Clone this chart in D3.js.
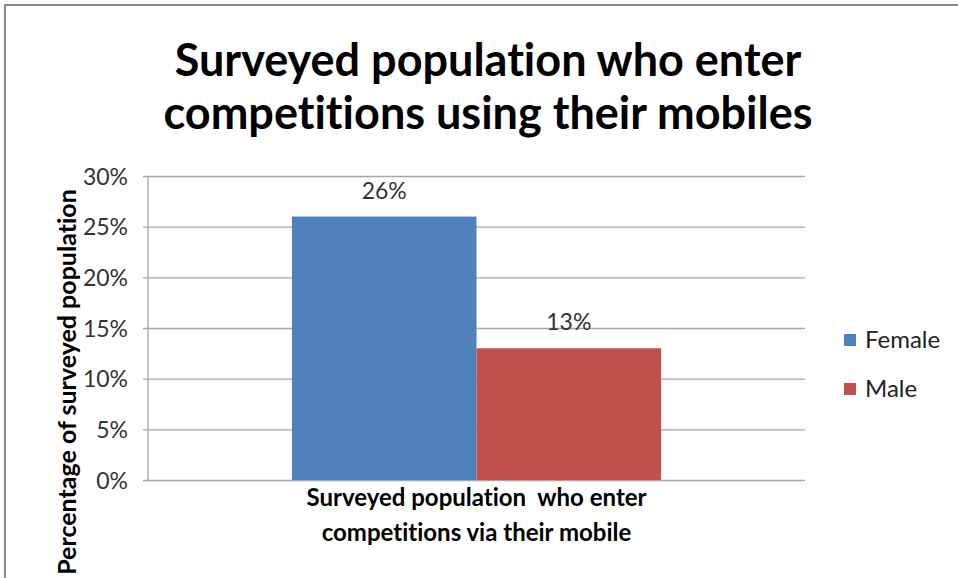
<!DOCTYPE html>
<html>
<head>
<meta charset="utf-8">
<script src="https://cdn.jsdelivr.net/npm/d3@7"></script>
<style>
  html, body { margin: 0; padding: 0; background: #fff; }
  svg { display: block; font-family: Lato, "Open Sans", sans-serif; font-variant-ligatures: none; }
</style>
</head>
<body>
<svg id="chart" width="958" height="578"></svg>
<script>
// Chart data
const categories = ["Surveyed population  who enter|competitions via their mobile"];
const seriesNames = ["Female", "Male"];
const seriesValues = [[0.26], [0.13]];
const seriesColors = ["#4F81BD", "#C0504D"];
const yTicks = [0, 0.05, 0.10, 0.15, 0.20, 0.25, 0.30];
const titleLines = ["Surveyed population who enter", "competitions using their mobiles"];
const yAxisTitle = "Percentage of surveyed population";

const svg = d3.select("#chart");
const W = 958, H = 578;
const plot = { left: 148, right: 805, top: 176, bottom: 480 };

// Outer chart frame (only top and left edges fall inside the view)
svg.append("rect")
  .attr("x", 5).attr("y", 5)
  .attr("width", W + 20).attr("height", H + 20)
  .attr("fill", "#fff")
  .attr("stroke", "#8a8a8a").attr("stroke-width", 2);

// Title
svg.append("g").selectAll("text").data(titleLines).join("text")
  .attr("x", 488)
  .attr("y", (d, i) => 76 + i * 53)
  .attr("text-anchor", "middle")
  .attr("font-size", 45)
  .attr("font-weight", "bold")
  .attr("fill", "#000")
  .text(d => d);

const y = d3.scaleLinear().domain([0, 0.30]).range([plot.bottom, plot.top]);
const x0 = d3.scaleBand().domain(categories).range([plot.left, plot.right]).paddingInner(0).paddingOuter(0.39);
const x1 = d3.scaleBand().domain(seriesNames).range([0, x0.bandwidth()]).padding(0);

// Horizontal gridlines + tick marks
const yAxis = d3.axisLeft(y)
  .tickValues(yTicks)
  .tickSize(-(plot.right - plot.left))
  .tickFormat(d3.format(".0%"))
  .tickPadding(20);
const gy = svg.append("g").attr("transform", `translate(${plot.left},0)`).call(yAxis);
gy.select(".domain").remove();
gy.selectAll(".tick line")
  .attr("x1", -5)
  .attr("stroke", "#a6a6a6").attr("stroke-width", 1.3);
gy.selectAll(".tick text")
  .attr("font-size", 23).attr("fill", "#333")
  .attr("font-family", "Lato, 'Open Sans', sans-serif")
  .attr("x", -20).attr("dy", "0.35em");

// Vertical axis line
svg.append("line")
  .attr("x1", plot.left).attr("x2", plot.left)
  .attr("y1", plot.top).attr("y2", plot.bottom)
  .attr("stroke", "#a6a6a6").attr("stroke-width", 1.3);

// Bars
const rows = categories.map((c, ci) => seriesNames.map((s, si) => ({ cat: c, series: s, value: seriesValues[si][ci], color: seriesColors[si] })));
const gBars = svg.append("g");
rows.forEach(row => {
  gBars.selectAll(null).data(row).join("rect")
    .attr("x", d => x0(d.cat) + x1(d.series))
    .attr("y", d => y(d.value))
    .attr("width", x1.bandwidth())
    .attr("height", d => y(0) - y(d.value))
    .attr("fill", d => d.color);
  // Data labels
  gBars.selectAll(null).data(row).join("text")
    .attr("x", d => x0(d.cat) + x1(d.series) + x1.bandwidth() / 2)
    .attr("y", d => y(d.value) - 18)
    .attr("text-anchor", "middle")
    .attr("font-size", 23).attr("fill", "#333")
    .text(d => d3.format(".0%")(d.value));
});

// Category label
categories.forEach(c => {
  svg.append("g").selectAll("text").data(c.split("|")).join("text")
    .attr("x", x0(c) + x0.bandwidth() / 2)
    .attr("y", (d, i) => 506 + i * 35)
    .attr("text-anchor", "middle")
    .attr("font-size", 24).attr("font-weight", "bold")
    .attr("fill", "#000")
    .attr("xml:space", "preserve")
    .style("white-space", "pre")
    .text(d => d);
});

// Y axis title
svg.append("text")
  .attr("transform", "translate(76,382) rotate(-90)")
  .attr("text-anchor", "middle")
  .attr("font-size", 25).attr("font-weight", "bold")
  .attr("fill", "#000")
  .text(yAxisTitle);

// Legend
const legend = svg.append("g").selectAll("g").data(seriesNames).join("g")
  .attr("transform", (d, i) => `translate(844,${334 + i * 49})`);
legend.append("rect")
  .attr("width", 12).attr("height", 12)
  .attr("fill", (d, i) => seriesColors[i]);
legend.append("text")
  .attr("x", 21).attr("y", 14)
  .attr("font-size", 24).attr("fill", "#222")
  .text(d => d);
</script>
</body>
</html>
